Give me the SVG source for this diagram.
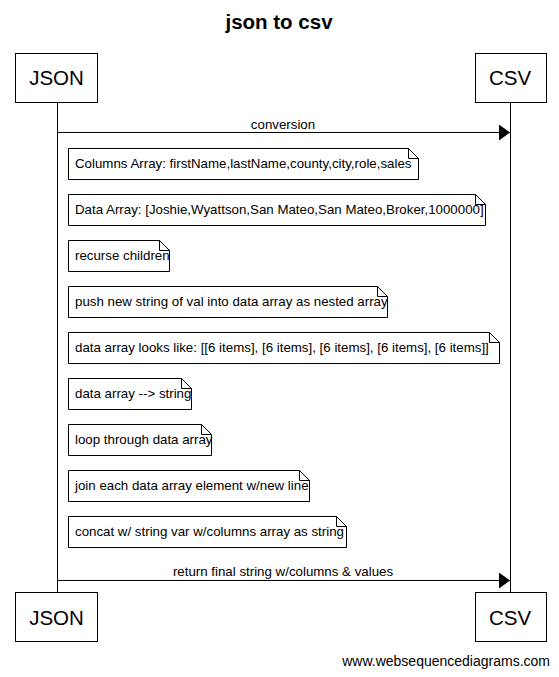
<svg xmlns="http://www.w3.org/2000/svg" width="559" height="677" viewBox="0 0 559 677">
<style>
text{font-family:"Liberation Sans",Arial,sans-serif;fill:#000}
.box{fill:#fff;stroke:#000;stroke-width:1}
.actor{font-size:20.5px;text-anchor:middle}
.lbl{font-size:13.3px}
.mid{text-anchor:middle}
.note{fill:#fff;stroke:#000;stroke-width:1}
.fold{fill:none;stroke:#000;stroke-width:1}
.line{stroke:#000;stroke-width:1;fill:none}
</style>
<defs>
<marker id="ah" markerWidth="12" markerHeight="16" refX="11" refY="8" orient="auto" markerUnits="userSpaceOnUse">
<path d="M0,0 L11,8 L0,16 Z" fill="#000"/>
</marker>
</defs>
<rect width="559" height="677" fill="#fff"/>
<text x="279" y="29" font-size="20.5" font-weight="bold" text-anchor="middle">json to csv</text>
<g id="connectors">
<line class="line" x1="57.5" y1="102" x2="57.5" y2="592"/>
<line class="line" x1="510.5" y1="102" x2="510.5" y2="592"/>
<line class="line" x1="57.5" y1="132.5" x2="510" y2="132.5" marker-end="url(#ah)"/>
<text class="lbl mid" x="283" y="129">conversion</text>
<line class="line" x1="57.5" y1="580.5" x2="510" y2="580.5" marker-end="url(#ah)"/>
<text class="lbl mid" x="283" y="576">return final string w/columns &amp; values</text>
</g>
<g id="json-top"><rect class="box" x="15.5" y="53.5" width="82" height="49"/><text class="actor" x="56.5" y="85">JSON</text></g>
<g id="csv-top"><rect class="box" x="475.5" y="53.5" width="71" height="49"/><text class="actor" x="510" y="85">CSV</text></g>
<g id="json-bottom"><rect class="box" x="15.5" y="592.5" width="82" height="49"/><text class="actor" x="56.5" y="625">JSON</text></g>
<g id="csv-bottom"><rect class="box" x="475.5" y="592.5" width="71" height="49"/><text class="actor" x="510" y="625">CSV</text></g>
<g id="note1"><path class="note" d="M68.5,148.5 H408.5 L418.5,158.5 V179.5 H68.5 Z"/><path class="fold" d="M408.5,148.5 V158.5 H418.5"/><text class="lbl" x="75" y="168">Columns Array: firstName,lastName,county,city,role,sales</text></g>
<g id="note2"><path class="note" d="M68.5,194.5 H475.5 L485.5,204.5 V225.5 H68.5 Z"/><path class="fold" d="M475.5,194.5 V204.5 H485.5"/><text class="lbl" x="75" y="214">Data Array: [Joshie,Wyattson,San Mateo,San Mateo,Broker,1000000]</text></g>
<g id="note3"><path class="note" d="M68.5,240.5 H159.5 L169.5,250.5 V271.5 H68.5 Z"/><path class="fold" d="M159.5,240.5 V250.5 H169.5"/><text class="lbl" x="75" y="260">recurse children</text></g>
<g id="note4"><path class="note" d="M68.5,286.5 H377.5 L387.5,296.5 V317.5 H68.5 Z"/><path class="fold" d="M377.5,286.5 V296.5 H387.5"/><text class="lbl" x="75" y="306">push new string of val into data array as nested array</text></g>
<g id="note5"><path class="note" d="M68.5,332.5 H489.5 L499.5,342.5 V363.5 H68.5 Z"/><path class="fold" d="M489.5,332.5 V342.5 H499.5"/><text class="lbl" x="75" y="352">data array looks like: [[6 items], [6 items], [6 items], [6 items], [6 items]]</text></g>
<g id="note6"><path class="note" d="M68.5,378.5 H181.5 L191.5,388.5 V409.5 H68.5 Z"/><path class="fold" d="M181.5,378.5 V388.5 H191.5"/><text class="lbl" x="75" y="398">data array --&gt; string</text></g>
<g id="note7"><path class="note" d="M68.5,424.5 H201.5 L211.5,434.5 V455.5 H68.5 Z"/><path class="fold" d="M201.5,424.5 V434.5 H211.5"/><text class="lbl" x="75" y="444">loop through data array</text></g>
<g id="note8"><path class="note" d="M68.5,470.5 H299.5 L309.5,480.5 V501.5 H68.5 Z"/><path class="fold" d="M299.5,470.5 V480.5 H309.5"/><text class="lbl" x="75" y="490">join each data array element w/new line</text></g>
<g id="note9"><path class="note" d="M68.5,516.5 H336.5 L346.5,526.5 V547.5 H68.5 Z"/><path class="fold" d="M336.5,516.5 V526.5 H346.5"/><text class="lbl" x="75" y="536">concat w/ string var w/columns array as string</text></g>
<text x="550" y="666" font-size="14" text-anchor="end">www.websequencediagrams.com</text>
</svg>
